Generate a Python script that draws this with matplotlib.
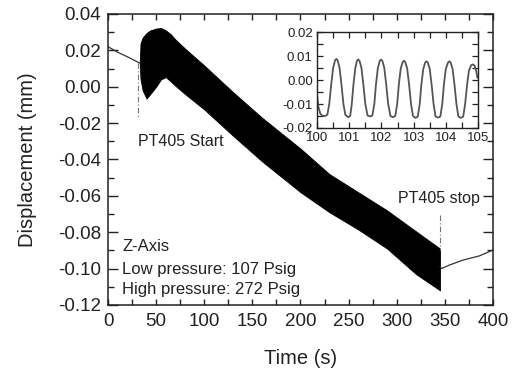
import matplotlib
matplotlib.use("Agg")
import matplotlib.pyplot as plt
from matplotlib.ticker import MultipleLocator

plt.rcParams['font.family'] = ['Liberation Sans', 'DejaVu Sans']
INK = '#222222'

# ---- Main record: displacement vs time ----
# baseline before the PT405 start
pre_t = [0, 10, 20, 33]
pre_y = [0.022, 0.019, 0.0165, 0.013]

# envelope of the oscillating response while PT405 runs
band_t = [33, 33.8, 36, 40, 44, 50, 55, 60, 65, 70, 80, 100, 130, 160, 200,
          230, 260, 290, 320, 345]
band_hi = [0.0135, 0.024, 0.027, 0.0295, 0.031, 0.032, 0.0323, 0.031, 0.029,
           0.026, 0.021, 0.0117, -0.003, -0.017, -0.034, -0.048, -0.058,
           -0.068, -0.0795, -0.089]
band_lo = [0.0125, 0.004, -0.002, -0.0065, -0.004, 0.000, 0.004, 0.0053,
           0.003, 0.0005, -0.004, -0.0125, -0.027, -0.041, -0.058, -0.069,
           -0.0785, -0.089, -0.103, -0.112]

# relaxation after the stop
post_t = [345, 346.7, 355, 369, 386, 400]
post_y = [-0.099, -0.0999, -0.098, -0.0953, -0.093, -0.0898]

# event markers
start_t, start_y = [31.5, 31.5], [0.013, -0.017]
stop_t, stop_y = [345, 345], [-0.0706, -0.0898]

# ---- Zoomed trace 100-105 s ----
zoom_t = [100.00, 100.04, 100.10, 100.17,
          100.25, 100.32, 100.38, 100.44, 100.50, 100.56, 100.60, 100.64,
          100.70, 100.76, 100.82, 100.88,
          100.97, 101.03, 101.08, 101.13, 101.19, 101.24, 101.28, 101.32,
          101.38, 101.44, 101.50, 101.57,
          101.66, 101.72, 101.78, 101.83, 101.89, 101.95, 101.99, 102.03,
          102.09, 102.15, 102.21, 102.28,
          102.36, 102.43, 102.49, 102.54, 102.60, 102.66, 102.70, 102.74,
          102.80, 102.86, 102.92, 102.98,
          103.06, 103.13, 103.19, 103.24, 103.30, 103.36, 103.40, 103.44,
          103.50, 103.56, 103.62, 103.68,
          103.76, 103.83, 103.89, 103.94, 104.00, 104.07, 104.11, 104.15,
          104.21, 104.27, 104.33, 104.39,
          104.47, 104.54, 104.60, 104.66, 104.72, 104.79, 104.84, 104.89,
          104.94, 104.98]
zoom_y = [-0.0060, -0.0110, -0.0140, -0.0149,
          -0.0150, -0.0145, -0.0100, -0.0020, 0.0050, 0.0082, 0.0088, 0.0082,
          0.0050, -0.0020, -0.0100, -0.0145,
          -0.0155, -0.0150, -0.0100, -0.0020, 0.0050, 0.0080, 0.0086, 0.0080,
          0.0050, -0.0020, -0.0100, -0.0148,
          -0.0152, -0.0147, -0.0100, -0.0020, 0.0050, 0.0080, 0.0085, 0.0080,
          0.0050, -0.0020, -0.0100, -0.0150,
          -0.0155, -0.0150, -0.0100, -0.0020, 0.0048, 0.0075, 0.0080, 0.0075,
          0.0048, -0.0020, -0.0100, -0.0150,
          -0.0158, -0.0152, -0.0100, -0.0020, 0.0046, 0.0073, 0.0078, 0.0073,
          0.0046, -0.0020, -0.0100, -0.0152,
          -0.0157, -0.0152, -0.0100, -0.0020, 0.0046, 0.0073, 0.0078, 0.0073,
          0.0046, -0.0020, -0.0100, -0.0152,
          -0.0158, -0.0152, -0.0100, -0.0020, 0.0040, 0.0062, 0.0065, 0.0060,
          0.0040, 0.0010]

notes = ["Z-Axis", "Low pressure: 107 Psig", "High pressure: 272 Psig"]
notes_y = [-0.0878, -0.1005, -0.1115]

fig = plt.figure(figsize=(5.18, 3.71), dpi=100)
ax = fig.add_axes([0.2085, 0.178, 0.7432, 0.7843])

ax.plot(pre_t, pre_y, color='#333333', lw=0.9)
ax.fill_between(band_t, band_lo, band_hi, color='black', lw=0.6, edgecolor='black')
ax.plot(post_t, post_y, color='#333333', lw=0.9)
ax.plot(start_t, start_y, color='#777777', lw=0.8, ls=(0, (5, 2, 1, 2)))
ax.plot(stop_t, stop_y, color='#777777', lw=0.8, ls=(0, (5, 2, 1, 2)))

ax.text(31, -0.030, "PT405 Start", fontsize=11.5, color=INK, va='center')
ax.text(301, -0.0612, "PT405 stop", fontsize=11.5, color=INK, va='center')
for s, yy in zip(notes, notes_y):
    ax.text(15, yy, s, fontsize=12, color=INK, va='center')

ax.set_xlim(0, 400)
ax.set_ylim(-0.12, 0.04)
ax.xaxis.set_major_locator(MultipleLocator(50))
ax.xaxis.set_minor_locator(MultipleLocator(25))
ax.yaxis.set_major_locator(MultipleLocator(0.02))
ax.yaxis.set_minor_locator(MultipleLocator(0.01))
ax.yaxis.set_major_formatter(plt.FuncFormatter(lambda v, p: f"{v:.2f}"))
ax.tick_params(which='both', direction='in', top=True, right=True,
               color='#222222', width=1.0, labelsize=13.5, labelcolor=INK)
ax.tick_params(axis='y', which='major', length=7, pad=5)
ax.tick_params(axis='y', which='minor', length=4)
ax.tick_params(axis='x', which='both', length=4.5, pad=6)
for sp in ax.spines.values():
    sp.set_linewidth(1.1)
    sp.set_color('#222222')

ax.set_xlabel("Time (s)", fontsize=14.5, color=INK)
ax.set_ylabel("Displacement (mm)", fontsize=14.5, color=INK)
ax.xaxis.set_label_coords(0.5, -0.15)
ax.yaxis.set_label_coords(-0.185, 0.5)

# inset
ins = fig.add_axes([0.612, 0.655, 0.3108, 0.2587])
ins.plot(zoom_t, zoom_y, color='#555555', lw=1.3)
ins.set_xlim(100, 105)
ins.set_ylim(-0.02, 0.02)
ins.xaxis.set_major_locator(MultipleLocator(1))
ins.xaxis.set_minor_locator(MultipleLocator(0.5))
ins.yaxis.set_major_locator(MultipleLocator(0.01))
ins.yaxis.set_minor_locator(MultipleLocator(0.005))
ins.yaxis.set_major_formatter(plt.FuncFormatter(lambda v, p: f"{v:.2f}"))
ins.tick_params(which='both', direction='in', top=True, right=True,
                color='#222222', width=0.9, labelsize=9.5, labelcolor=INK, pad=3)
ins.tick_params(which='major', length=4)
ins.tick_params(which='minor', length=4)
for sp in ins.spines.values():
    sp.set_linewidth(1.0)
    sp.set_color('#222222')

fig.savefig("out.png", dpi=100)
